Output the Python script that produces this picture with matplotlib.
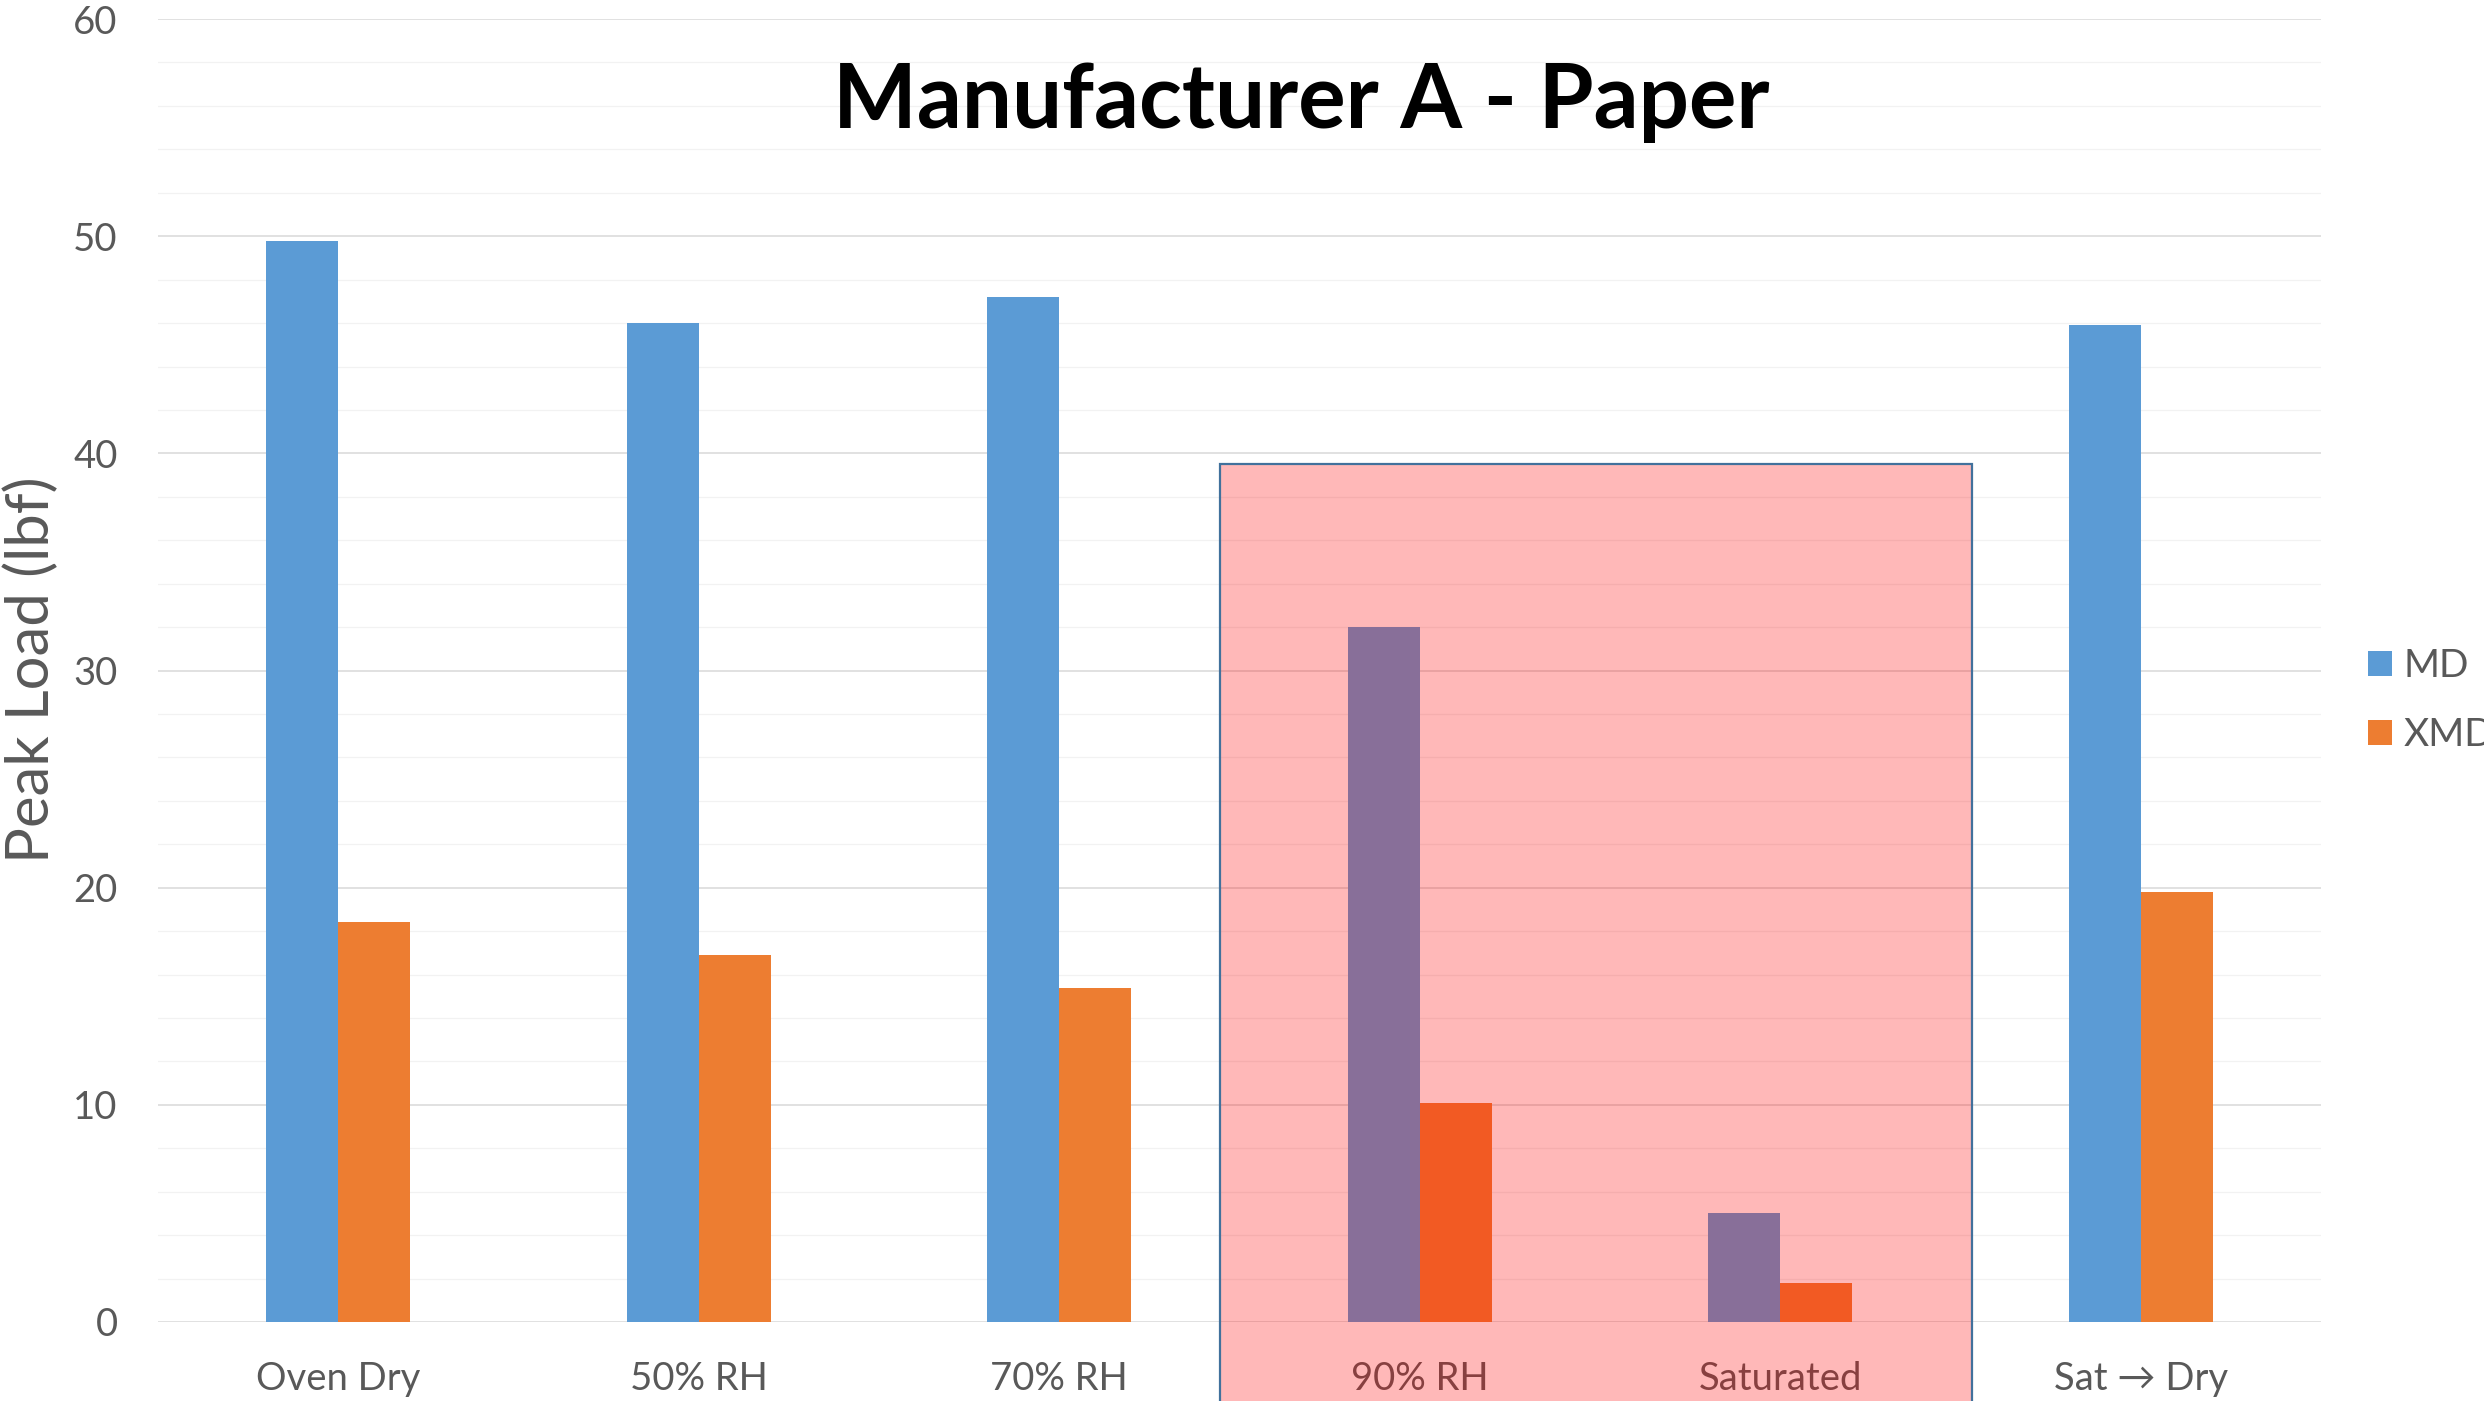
import matplotlib
matplotlib.use("Agg")
import matplotlib.pyplot as plt
import numpy as np
from matplotlib.patches import Rectangle, Patch
from matplotlib.ticker import MultipleLocator

plt.rcParams['font.family'] = ['Lato', 'DejaVu Sans']

categories = ["Oven Dry", "50% RH", "70% RH", "90% RH", "Saturated", "Sat \u2192 Dry"]
md_values = [49.8, 46.0, 47.2, 32.0, 5.0, 45.9]
xmd_values = [18.4, 16.9, 15.4, 10.1, 1.8, 19.8]
series_names = ["MD", "XMD"]
title = "Manufacturer A - Paper"
ylabel = "Peak Load (lbf)"
y_ticks = [0, 10, 20, 30, 40, 50, 60]

# highlight box (data coords): x from, x to, top value
highlight_x0, highlight_x1, highlight_top = 2.446, 4.532, 39.5

BLUE = "#5B9BD5"
ORANGE = "#ED7D31"
GREY = "#595959"

fig = plt.figure(figsize=(24.84, 14.01), dpi=100)
ax = fig.add_axes([0.0636, 0.0564, 0.9344 - 0.0636, 0.9864 - 0.0564])

x = np.arange(len(categories))
w = 0.2
ax.bar(x - w / 2, md_values, width=w, color=BLUE, label=series_names[0], zorder=3)
ax.bar(x + w / 2, xmd_values, width=w, color=ORANGE, label=series_names[1], zorder=3)

ax.set_xlim(-0.5, len(categories) - 0.5)
ax.set_ylim(0, 60)
ax.set_yticks(y_ticks)
ax.yaxis.set_minor_locator(MultipleLocator(2))
ax.set_xticks(x)
ax.set_xticklabels(categories)

ax.grid(axis='y', which='major', color='#D9D9D9', linewidth=1.1, zorder=0)
ax.grid(axis='y', which='minor', color='#F2F2F2', linewidth=0.9, zorder=0)
ax.set_axisbelow(True)
for s in ax.spines.values():
    s.set_visible(False)

ax.tick_params(axis='both', which='both', length=0, labelsize=27.5, labelcolor=GREY)
ax.tick_params(axis='y', pad=29)
ax.tick_params(axis='x', pad=28)

fig.text(0.0125, 0.522, ylabel, rotation=90, ha='center', va='center',
         fontsize=43, color=GREY)

fig.text(0.524, 0.927, title, ha='center', va='center', fontsize=64,
         fontweight='bold', color='black')

handles = [Patch(facecolor=BLUE, label=series_names[0]),
           Patch(facecolor=ORANGE, label=series_names[1])]
fig.legend(handles=handles, loc='center left', bbox_to_anchor=(0.9534, 0.50),
           frameon=False, fontsize=28, labelcolor=GREY, handlelength=0.6,
           handleheight=0.6, handletextpad=0.3, labelspacing=0.85,
           borderaxespad=0, borderpad=0)

rect = Rectangle((highlight_x0, -3.8), highlight_x1 - highlight_x0, highlight_top + 3.8,
                 transform=ax.transData, facecolor=(1, 0, 0, 0.28),
                 edgecolor='#41719C', linewidth=1.6, zorder=5, clip_on=False)
fig.add_artist(rect)

fig.savefig("out.png", dpi=100)
